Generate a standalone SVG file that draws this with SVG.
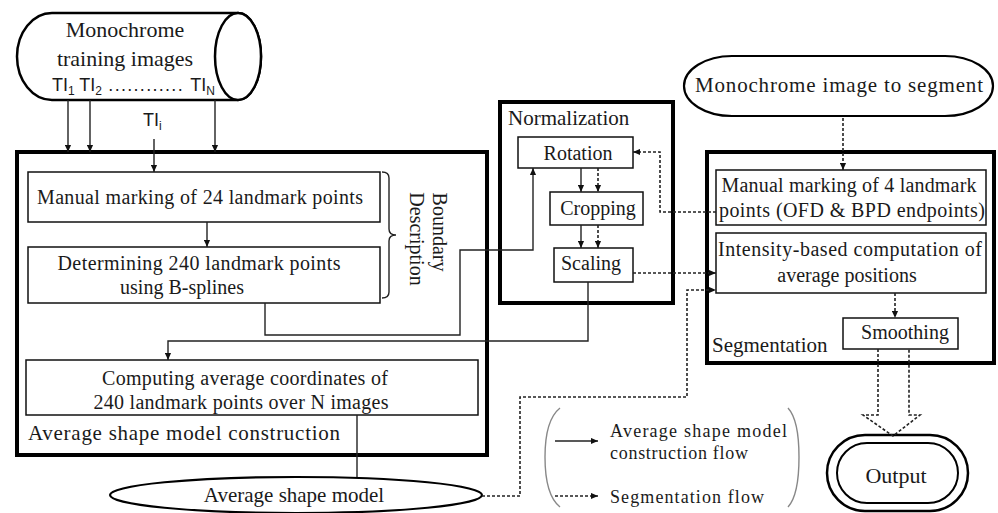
<svg xmlns="http://www.w3.org/2000/svg" width="998" height="513" viewBox="0 0 998 513">
<defs>
<style>
.t{font-family:"Liberation Serif","Times New Roman",serif;fill:#1a1a1a}
.s{font-family:"Liberation Sans",Arial,sans-serif;fill:#1a1a1a}
.box{fill:#fff;stroke:#111;stroke-width:1.5}
.thick{fill:#fff;stroke:#000;stroke-width:4}
.ln{fill:none;stroke:#222;stroke-width:1.4}
.dl{fill:none;stroke:#222;stroke-width:1.6;stroke-dasharray:3 2}
.par{fill:none;stroke:#888;stroke-width:1.4}
</style>
<marker id="ah" viewBox="0 0 8 8" refX="8" refY="4" markerWidth="7" markerHeight="7" markerUnits="userSpaceOnUse" orient="auto">
<path d="M0,0.5 L8,4 L0,7.5 Z" fill="#111"/>
</marker>
</defs>
<rect width="998" height="513" fill="#fff"/>

<g id="training-images">
<path d="M52,13 L238,13 A23,43.5 0 0 1 238,100 L52,100 A35,43.5 0 0 1 52,13 Z" fill="#fff" stroke="#000" stroke-width="2.5"/>
<ellipse cx="238" cy="56.5" rx="23" ry="43.5" fill="#fff" stroke="#000" stroke-width="2.5"/>
<text class="t" x="125" y="37" font-size="22" text-anchor="middle">Monochrome</text>
<text class="t" x="125" y="66" font-size="22" text-anchor="middle">training images</text>
<text class="s" x="52" y="91" font-size="18">TI<tspan dy="4" font-size="12">1</tspan><tspan dy="-4"> TI</tspan><tspan dy="4" font-size="12">2</tspan><tspan dy="-4" letter-spacing="1.3"> ............ </tspan>TI<tspan dy="4" font-size="12">N</tspan></text>
</g>

<g id="asm-construction">
<rect class="thick" x="17" y="152" width="470" height="303"/>
<text class="t" x="28" y="440" font-size="21" textLength="312">Average shape model construction</text>
</g>

<g id="normalization">
<rect class="thick" x="500" y="102" width="173" height="201"/>
<text class="t" x="508" y="125" font-size="21">Normalization</text>
</g>

<g id="segmentation">
<rect class="thick" x="707" y="152" width="287" height="211"/>
<text class="t" x="712" y="352" font-size="21">Segmentation</text>
</g>

<g id="manual-24">
<rect class="box" x="28" y="172" width="352" height="50"/>
<text class="t" x="200" y="204" font-size="20" text-anchor="middle" textLength="326">Manual marking of 24 landmark points</text>
</g>

<g id="determining-240">
<rect class="box" x="28" y="247" width="352" height="56"/>
<text class="t" x="199" y="270" font-size="20" text-anchor="middle" textLength="283">Determining 240 landmark points</text>
<text class="t" x="182" y="294" font-size="20" text-anchor="middle">using B-splines</text>
</g>

<g id="boundary-description">
<path class="ln" d="M382,172 Q389,172 389,178 L389,229 Q389,235 396,235 Q389,235 389,241 L389,292 Q389,298 382,298"/>
<text class="t" font-size="20" transform="translate(433,232) rotate(90)" text-anchor="middle">Boundary</text>
<text class="t" font-size="20" transform="translate(410,239) rotate(90)" text-anchor="middle">Description</text>
</g>

<g id="computing">
<rect class="box" x="26" y="360" width="452" height="55"/>
<text class="t" x="245" y="385" font-size="20" text-anchor="middle" textLength="286">Computing average coordinates of</text>
<text class="t" x="241" y="409" font-size="20" text-anchor="middle" textLength="295">240 landmark points over N images</text>
</g>

<g id="average-shape-model">
<ellipse cx="296" cy="495" rx="186" ry="18" fill="#fff" stroke="#000" stroke-width="2.2"/>
<text class="t" x="294" y="502" font-size="21" text-anchor="middle">Average shape model</text>
</g>

<g id="rotation">
<rect class="box" x="518" y="137" width="115" height="31"/>
<text class="t" x="578" y="160" font-size="20" text-anchor="middle">Rotation</text>
</g>
<g id="cropping">
<rect class="box" x="550" y="192" width="93" height="33"/>
<text class="t" x="598" y="215" font-size="20" text-anchor="middle">Cropping</text>
</g>
<g id="scaling">
<rect class="box" x="554" y="248" width="79" height="34"/>
<text class="t" x="591" y="270" font-size="20" text-anchor="middle">Scaling</text>
</g>

<g id="image-to-segment">
<rect x="684" y="56" width="309" height="60" rx="48" ry="30" fill="#fff" stroke="#000" stroke-width="2.2"/>
<text class="t" x="839" y="92" font-size="21" text-anchor="middle" textLength="288">Monochrome image to segment</text>
</g>

<g id="manual-4">
<rect class="box" x="716" y="170" width="270" height="55"/>
<text class="t" x="849" y="192" font-size="20" text-anchor="middle" textLength="255">Manual marking of 4 landmark</text>
<text class="t" x="852" y="217" font-size="20" text-anchor="middle" textLength="266">points (OFD &amp; BPD endpoints)</text>
</g>

<g id="intensity">
<rect class="box" x="716" y="233" width="270" height="60"/>
<text class="t" x="850" y="256" font-size="20" text-anchor="middle" textLength="264">Intensity-based computation of</text>
<text class="t" x="847" y="282" font-size="20" text-anchor="middle">average positions</text>
</g>

<g id="smoothing">
<rect class="box" x="843" y="318" width="115" height="31"/>
<text class="t" x="905" y="339" font-size="20" text-anchor="middle">Smoothing</text>
</g>

<g id="output">
<rect x="827" y="435" width="141" height="76" rx="38" ry="38" fill="#fff" stroke="#000" stroke-width="2.5"/>
<rect x="837" y="443" width="121" height="60" rx="30" ry="30" fill="none" stroke="#000" stroke-width="2"/>
<text class="t" x="896" y="483" font-size="22" text-anchor="middle">Output</text>
</g>

<g id="legend">
<path class="par" d="M560,408 Q545,420 545,457 Q545,495 560,507"/>
<path class="par" d="M788,408 Q799,420 799,457 Q799,495 788,507"/>
<line class="ln" x1="555" y1="441" x2="598" y2="441" marker-end="url(#ah)"/>
<line class="dl" x1="555" y1="496" x2="598" y2="496" marker-end="url(#ah)"/>
<text class="t" x="610" y="437" font-size="18" textLength="177">Average shape model</text>
<text class="t" x="610" y="459" font-size="18" textLength="138">construction flow</text>
<text class="t" x="610" y="503" font-size="18" textLength="154">Segmentation flow</text>
</g>

<g id="connectors">
<line class="ln" x1="68" y1="100" x2="68" y2="152" marker-end="url(#ah)"/>
<line class="ln" x1="90" y1="100" x2="90" y2="152" marker-end="url(#ah)"/>
<line class="ln" x1="215" y1="100" x2="215" y2="152" marker-end="url(#ah)"/>
<text class="s" x="143" y="126" font-size="18">TI<tspan dy="4" font-size="12">i</tspan></text>
<line class="ln" x1="154" y1="139" x2="154" y2="172" marker-end="url(#ah)"/>
<line class="ln" x1="207" y1="222" x2="207" y2="247" marker-end="url(#ah)"/>
<path class="ln" d="M265,303 L265,335 L460,335 L460,250 L533,250 L533,168" marker-end="url(#ah)"/>
<path class="ln" d="M588,282 L588,341 L168,341 L168,360" marker-end="url(#ah)"/>
<line class="ln" x1="357" y1="415" x2="357" y2="477"/>
<line class="ln" x1="581" y1="168" x2="581" y2="192" marker-end="url(#ah)"/>
<line class="dl" x1="598" y1="168" x2="598" y2="192" marker-end="url(#ah)"/>
<line class="ln" x1="581" y1="225" x2="581" y2="248" marker-end="url(#ah)"/>
<line class="dl" x1="598" y1="225" x2="598" y2="248" marker-end="url(#ah)"/>
<path class="dl" d="M716,212 L660,212 L660,152 L633,152" marker-end="url(#ah)"/>
<line class="dl" x1="633" y1="273" x2="716" y2="273" marker-end="url(#ah)"/>
<path class="dl" d="M482,496 L520,496 L520,397 L687,397 L687,290 L716,290" marker-end="url(#ah)"/>
<line class="dl" x1="843" y1="118" x2="843" y2="170" marker-end="url(#ah)"/>
<line class="dl" x1="895" y1="293" x2="895" y2="318" marker-end="url(#ah)"/>
<path class="dl" d="M878,349 L878,415 L863,415 L893,436 L920,415 L909,415 L909,349" fill="#fff"/>
</g>
</svg>
